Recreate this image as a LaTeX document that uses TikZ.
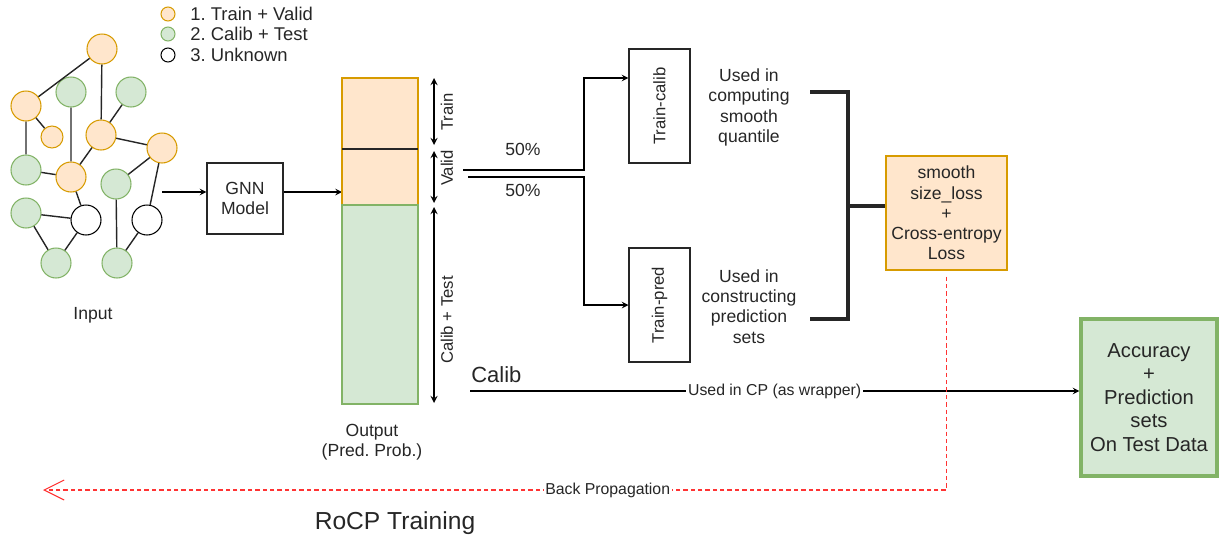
\documentclass[tikz,border=0pt]{standalone}
\usepackage{fontspec}
\setmainfont{Liberation Sans}
\usepackage{tikz}
\usetikzlibrary{arrows,arrows.meta,positioning}
\definecolor{trainfill}{HTML}{FFE6CC}
\definecolor{trainline}{HTML}{D79B00}
\definecolor{testfill}{HTML}{D5E8D4}
\definecolor{testline}{HTML}{82B366}
\definecolor{backred}{HTML}{FF3333}
\frenchspacing

\begin{document}
\begin{tikzpicture}[
x=0.02cm, y=-0.02cm,
font=\fontsize{10}{11.5}\selectfont,
text=black!85,
trainnode/.style={circle,draw=trainline,fill=trainfill,line width=0.6pt,minimum size=0.6cm,inner sep=0pt},
testnode/.style={circle,draw=testline,fill=testfill,line width=0.6pt,minimum size=0.6cm,inner sep=0pt},
unknode/.style={circle,draw=black,fill=white,line width=0.6pt,minimum size=0.6cm,inner sep=0pt},
graphedge/.style={line width=0.8pt,black!85},
block/.style={draw=black!85,line width=0.6pt,inner sep=0pt,align=center},
classical/.style={line width=0.8pt,<->,>=stealth},
oneway/.style={->,>=stealth,line width=0.7pt},
bracket/.style={line width=1.8pt,black!85},
backprop/.style={backred,line width=0.6pt,dash pattern=on 2.5pt off 1.7pt,-{Straight Barb[length=4mm,width=4mm]}}
]
    \useasboundingbox (0,0) rectangle (1220,538);

    % Legend
    \node[trainnode,minimum size=0.28cm] (legtrain) at (168,14) {};
    \node[testnode,minimum size=0.28cm] (legtest) at (168,34) {};
    \node[unknode,minimum size=0.28cm] (legunk) at (168,55) {};
    \node[anchor=west,inner sep=0pt,font=\fontsize{10.5}{12}\selectfont] (legtraintxt) at (190,14) {1. Train + Valid};
    \node[anchor=west,inner sep=0pt,font=\fontsize{10.5}{12}\selectfont] (legtesttxt) at (190,34) {2. Calib + Test};
    \node[anchor=west,inner sep=0pt,font=\fontsize{10.5}{12}\selectfont] (legunktxt) at (190,55) {3. Unknown};

    % Input graph
    \node[trainnode] (g1) at (102,49) {};
    \node[trainnode] (g2) at (26,106) {};
    \node[testnode] (g3) at (71,92) {};
    \node[testnode] (g4) at (131,92) {};
    \node[trainnode,minimum size=0.44cm] (g5) at (52,137) {};
    \node[trainnode] (g6) at (101,135) {};
    \node[trainnode] (g7) at (162,148) {};
    \node[testnode] (g8) at (26,170) {};
    \node[trainnode] (g9) at (71,177) {};
    \node[testnode] (g10) at (116,184) {};
    \node[testnode] (g11) at (26,213) {};
    \node[unknode] (g12) at (86,220) {};
    \node[unknode] (g13) at (147,220) {};
    \node[testnode] (g14) at (56,263) {};
    \node[testnode] (g15) at (117,263) {};

    \draw[graphedge] (g1) -- (g2) (g1) -- (g6) (g2) -- (g5) (g2) -- (g8)
        (g3) -- (g9) (g4) -- (g6) (g6) -- (g7) (g6) -- (g9) (g8) -- (g9)
        (g9) -- (g12) (g7) -- (g10) (g7) -- (g13) (g11) -- (g12)
        (g11) -- (g14) (g12) -- (g14) (g10) -- (g15) (g13) -- (g15);

    \node (inputlbl) at (93,315) {Input};

    % GNN
    \node[block,minimum width=1.52cm,minimum height=1.42cm] (gnn) at (245,198.5) {GNN\\Model};
    \coordinate (graphout) at (162,192);
    \coordinate (colin) at (342,192);
    \draw[oneway] (graphout) -- (graphout -| gnn.west);
    \draw[oneway] (gnn.east |- colin) -- (colin);

    % Output column
    \fill[trainfill,draw=trainline,line width=0.6pt] (342,78) rectangle (418,205);
    \fill[testfill,draw=testline,line width=0.6pt] (342,205) rectangle (418,404);
    \draw[line width=1.5pt,black!85] (342,149) -- (418,149);
    \node[align=center] (outlbl) at (372,442) {Output\\(Pred. Prob.)};

    \draw
      (434,78) coordinate (T1)
      (434,145) coordinate (T2)
      (434,151) coordinate (V1)
      (434,203) coordinate (V2)
      (434,207) coordinate (C1)
      (434,403) coordinate (C2);
    \draw[classical] (T1) -- (T2);
    \draw[classical] (V1) -- (V2);
    \draw[classical] (C1) -- (C2);
    \node[rotate=90,font=\fontsize{9.5}{11}\selectfont] (trainlbl) at (447,112) {Train};
    \node[rotate=90,font=\fontsize{9.5}{11}\selectfont] (validlbl) at (447,168) {Valid};
    \node[rotate=90,font=\fontsize{9.5}{11}\selectfont] (calibtestlbl) at (447,320) {Calib + Test};

    % Split of the valid part
    \node[block,minimum width=1.22cm,minimum height=2.28cm,font=\fontsize{9.5}{11}\selectfont] (tcalib) at (659.5,106) {\rotatebox{90}{Train-calib}};
    \node[block,minimum width=1.22cm,minimum height=2.28cm,font=\fontsize{9.5}{11}\selectfont] (tpred) at (659.5,305) {\rotatebox{90}{Train-pred}};
    \coordinate (splitA) at (463,170);
    \coordinate (splitB) at (468,177);
    \draw[oneway] (splitA) -- ++(121,0) |- (tcalib.west |- 0,78);
    \draw[oneway] (splitB) -- ++(116,0) |- (tpred.west);
    \node (pctA) at (523,149) {50\%};
    \node (pctB) at (523,190) {50\%};

    \node[align=center] (quantlbl) at (749,107.5) {Used in\\computing\\smooth\\quantile};
    \node[align=center] (predlbl) at (749,306.5) {Used in\\constructing\\prediction\\sets};

    % Loss
    \node[block,draw=trainline,fill=trainfill,line width=0.8pt,minimum width=2.42cm,minimum height=2.28cm] (loss) at (946.5,213) {smooth\\size\_loss\\+\\Cross-entropy\\Loss};
    \coordinate (brtop) at (810,92);
    \coordinate (brbot) at (810,319);
    \coordinate (brmid) at (848,206);
    \draw[bracket] (brtop) -- (848,92) -- (848,319) -- (brbot);
    \draw[bracket] (brmid) -- (brmid -| loss.west);

    % Calibration and test
    \node[block,draw=testline,fill=testfill,line width=1.8pt,minimum width=2.72cm,minimum height=3.14cm,font=\fontsize{11.5}{13.3}\selectfont] (acc) at (1149,397.5) {Accuracy\\+\\Prediction\\sets\\On Test Data};
    \coordinate (calibstart) at (470,391);
    \node[anchor=base west,inner sep=0pt,font=\fontsize{12.5}{14}\selectfont] (caliblbl) at (471,382) {Calib};
    \draw[oneway] (calibstart) -- node[fill=white,inner sep=1pt,font=\fontsize{9}{10}\selectfont] {Used in CP (as wrapper)} (calibstart -| acc.west);

    % Back propagation
    \coordinate (bpstart) at ([yshift=-0.12cm]loss.south);
    \coordinate (bpturn) at (946.5,490);
    \coordinate (bpend) at (43,490);
    \draw[backprop] (bpstart) -- (bpturn) -- node[pos=0.375,fill=white,inner sep=1pt,text=black!85,font=\fontsize{9}{10}\selectfont] {Back Propagation} (bpend);

    \node[font=\fontsize{14}{16}\selectfont] (title) at (395,523) {RoCP Training};

\end{tikzpicture}
\end{document}
